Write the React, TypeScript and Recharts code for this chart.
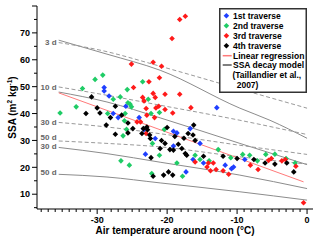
import React from "react";
import { ComposedChart, Scatter, XAxis, YAxis, Legend } from "recharts";

// SSA vs air temperature, four traverses
const traverse1 = [
  [-29, 49.7], [-29, 48.4], [-28.3, 46.5], [-25.9, 42.7], [-27.7, 40], [-27, 38.5],
  [-24, 38.5], [-23.3, 34.1], [-21.7, 30.7], [-23.1, 24.9], [-19.1, 33.4], [-18.6, 32.8],
  [-16.7, 34.4], [-19.1, 27.9], [-17.3, 18.3], [-15.3, 28.9], [-16.3, 22.9], [-14.8, 21.6],
  [-11.7, 20.8], [-10.8, 19.5], [-10.5, 20.1], [-8.9, 22.9], [-12.9, 42.2],
];
const traverse2 = [
  [-29.2, 54.3], [-30.3, 52.7], [-32.1, 49.3], [-23.5, 51.8], [-25.7, 48.9], [-22.7, 45.3],
  [-27.7, 45.3], [-26.7, 46.2], [-25.6, 44], [-25.3, 43.5], [-25.1, 42.5], [-35.3, 40.2],
  [-33, 42.5], [-28.5, 40], [-26, 40], [-22.3, 40], [-21.1, 40.4], [-26.1, 37.3],
  [-26.3, 31.7], [-25.8, 34.1], [-22.1, 28.9], [-21.1, 24.5], [-26.6, 22.4], [-25.4, 20.8],
  [-22.2, 17.7], [-20.4, 34.1], [-18.6, 21.6], [-17.8, 16.7], [-15.3, 22.9], [-16, 24.5],
  [-14, 22.4], [-12.7, 26.6], [-10.9, 23.6], [-9.2, 24.8], [-8.2, 24.5], [-7.1, 22.4],
  [-5.9, 24.8], [-4.6, 24.9], [-3, 23.3], [-1.7, 21.6],
];
const traverse3 = [
  [-25.1, 58.4], [-22, 59.1], [-21.1, 53.3], [-24.8, 49.7], [-22.6, 51.8], [-22, 47.5],
  [-21.7, 46], [-23.5, 46], [-23.3, 44.7], [-23, 41.9], [-22.9, 39.4], [-21.6, 42.1],
  [-21.8, 38.5], [-21.2, 42.7], [-17.4, 76.2], [-18.2, 75], [-19.3, 67.9], [-20.8, 57.6],
  [-20.3, 47.2], [-18.2, 47.2], [-20.3, 41.5], [-19.2, 40.2], [-16.6, 42.2], [-24.3, 36.9],
  [-23.8, 36.9], [-23, 32.6], [-16, 22], [-14.3, 20.1], [-14.1, 21.6], [-13.4, 21.6],
  [-13.8, 18.7], [-13, 19.2], [-12, 18.7], [-11.2, 17.4], [-8.1, 20.8], [-7, 19.2],
  [-5.5, 22.6], [-5.1, 23.3], [-3.6, 22.4], [-3.1, 22.9], [-1.6, 20.4], [-0.5, 6.8],
];
const traverse4 = [
  [-30.8, 46.2], [-27.4, 42.7], [-30, 42.1], [-29.6, 40.2], [-31.6, 40], [-28.1, 38.5],
  [-26.5, 39.4], [-28.7, 35.7], [-27.4, 32.3], [-25.6, 32.8], [-25.6, 36.5], [-24.9, 34.4],
  [-23.6, 32.6], [-23.4, 34.4], [-22.9, 35], [-22.8, 34], [-22.5, 32], [-22.4, 30.7],
  [-22.3, 23.6], [-22, 16.7], [-20, 34.8], [-17, 32.6], [-16.3, 32], [-16, 30],
  [-16.2, 35.7], [-20.8, 30], [-20.3, 28.9], [-21, 27], [-19.6, 26.6], [-19.1, 26.4],
  [-18.4, 28.6], [-17.9, 27], [-17.4, 25.1], [-17.2, 24.5], [-18.9, 31.5], [-17.6, 30.8],
  [-19.8, 18.3], [-19.2, 17.1], [-20.5, 17.1], [-14.8, 24.1], [-12, 24.1], [-10, 23.3],
  [-7.6, 22.9], [-6, 21.6], [-4.6, 21.2], [-2.9, 21.6], [-1.9, 18.3],
];

const regression = [[-35.5, 47.7], [-0.5, 14.6]];

// decay model curves (solid and dashed variants)
const solid3d = [[-35.5, 67.3], [-28.6, 62.1], [-21, 56.1], [-9.6, 42], [-5.3, 37.5], [0, 30.8]];
const solid10d = [[-35.5, 48], [-28.6, 44.3], [-21, 38.4], [-9.6, 28.9], [0, 21]];
const solid30d = [[-35.5, 27.4], [-28.6, 25.1], [-21, 21.9], [-9.6, 17.1], [0, 12.1]];
const solid50d = [[-35.5, 17.4], [-28.6, 16.4], [-21, 14.2], [-9.6, 10.9], [0, 7.8]];
const dashed3d = [[-35.5, 66.4], [-29.6, 63.6], [-21, 57.6], [-9.6, 49.1], [0, 42]];
const dashed10d = [[-35.5, 49.9], [-28.6, 46.8], [-21, 43.1], [-9.6, 37.5], [0, 32.2]];
const dashed30d = [[-35.5, 36.7], [-28.6, 35], [-21, 32.5], [-9.6, 28.2], [0, 24.8]];
const dashed50d = [[-35.5, 29.8], [-28.6, 28.9], [-21, 27.6], [-9.6, 23.9], [0, 21.2]];

const curveLabels = [
  { x: -35.8, y: 66.7, text: "3 d" },
  { x: -35.8, y: 49.7, text: "10 d" },
  { x: -35.8, y: 36.9, text: "30 d" },
  { x: -35.8, y: 31.3, text: "50 d" },
  { x: -35.8, y: 27.8, text: "30 d" },
  { x: -35.8, y: 18.3, text: "50 d" },
];

const xTicks = Array.from({ length: 39 }, (_, i) => i - 38);
const yTicks = [5, 10, 15, 20, 25, 30, 35, 40, 45, 50, 55, 60, 65, 70, 75, 80];

const FONT = "'Liberation Sans', Arial, sans-serif";
const BLUE = "#1f3fff";
const GREEN = "#1fcc66";
const RED = "#ff1a1a";
const BLACK = "#000000";
const PINK = "#ff7a7a";
const GRAY = "#8c8c8c";

const pts = (arr: number[][]) => arr.map(([x, y]) => ({ x, y }));

const diamond = (color: string) => (p: any) => {
  const { cx, cy } = p;
  const r = 2.8;
  return (
    <polygon
      points={`${cx},${cy - r} ${cx + r},${cy} ${cx},${cy + r} ${cx - r},${cy}`}
      fill={color}
    />
  );
};

const noShape = () => <g />;

const BottomTick = (p: any) => {
  const { x, y, payload } = p;
  const major = payload.value % 10 === 0;
  return (
    <g>
      <line x1={x} x2={x} y1={y} y2={y + (major ? 5 : 3)} stroke="#000" />
      {major && (
        <text x={x} y={y + 14} textAnchor="middle" fontSize={9} fontWeight="bold" fontFamily={FONT} fill="#000">
          {payload.value}
        </text>
      )}
    </g>
  );
};

const TopTick = (p: any) => {
  const { x, y, payload } = p;
  const major = payload.value % 10 === 0;
  return <line x1={x} x2={x} y1={y} y2={y - (major ? 4 : 2.5)} stroke="#000" />;
};

const LeftTick = (p: any) => {
  const { x, y, payload } = p;
  const major = payload.value % 10 === 0;
  return (
    <g>
      <line x1={x} x2={x - (major ? 5 : 3)} y1={y} y2={y} stroke="#000" />
      {major && payload.value <= 70 && (
        <text x={x - 7} y={y + 3.2} textAnchor="end" fontSize={9} fontWeight="bold" fontFamily={FONT} fill="#000">
          {payload.value}
        </text>
      )}
    </g>
  );
};

const RightTick = (p: any) => {
  const { x, y, payload } = p;
  const major = payload.value % 10 === 0;
  return <line x1={x} x2={x + (major ? 4 : 2.5)} y1={y} y2={y} stroke="#000" />;
};

const YTitle = (p: any) => {
  const vb = p.viewBox;
  const cx = vb.x + 16;
  const cy = vb.y + vb.height / 2;
  return (
    <text
      x={cx}
      y={cy}
      transform={`rotate(-90 ${cx} ${cy})`}
      textAnchor="middle"
      fontSize={10}
      fontWeight="bold"
      fontFamily={FONT}
      fill="#000"
    >
      SSA (m
      <tspan fontSize={6.5} dy={-4}>2</tspan>
      <tspan dy={4}> kg</tspan>
      <tspan fontSize={6.5} dy={-4}>-1</tspan>
      <tspan dy={4}>)</tspan>
    </text>
  );
};

const XTitle = (p: any) => {
  const vb = p.viewBox;
  return (
    <text
      x={vb.x + vb.width / 2}
      y={vb.y + 25}
      textAnchor="middle"
      fontSize={10}
      fontWeight="bold"
      fontFamily={FONT}
      fill="#000"
    >
      Air temperature around noon (°C)
    </text>
  );
};

const CurveLabel = (p: any) => (
  <text
    x={p.cx}
    y={p.cy + 2.8}
    textAnchor="end"
    fontSize={8}
    fontWeight="bold"
    fontFamily={FONT}
    fill="#666"
  >
    {p.payload.text}
  </text>
);

const legendRows = [
  { label: "1st traverse", color: BLUE, kind: "pt" },
  { label: "2nd traverse", color: GREEN, kind: "pt" },
  { label: "3rd traverse", color: RED, kind: "pt" },
  { label: "4th traverse", color: BLACK, kind: "pt" },
  { label: "Linear regression", color: PINK, kind: "line" },
  { label: "SSA decay model", color: "#555", kind: "line" },
];

const LegendBox = () => {
  const rowY = [7.7, 17.7, 27.7, 37.7, 47.7, 57];
  return (
    <svg width={88} height={86} style={{ display: "block" }}>
      <rect x={0.75} y={0.75} width={86.5} height={83.5} fill="#fff" stroke="#333" strokeWidth={1.5} />
      {legendRows.map((r, i) => (
        <g key={r.label}>
          {r.kind === "pt" ? (
            <polygon
              points={`7.4,${rowY[i] - 2.8} 10.2,${rowY[i]} 7.4,${rowY[i] + 2.8} 4.6,${rowY[i]}`}
              fill={r.color}
            />
          ) : (
            <line x1={3.7} x2={12.7} y1={rowY[i]} y2={rowY[i]} stroke={r.color} strokeWidth={1.5} />
          )}
          <text x={14} y={rowY[i] + 3} fontSize={8.5} fontWeight="bold" fontFamily={FONT} fill="#000">
            {r.label}
          </text>
        </g>
      ))}
      <text x={13.4} y={69.7} fontSize={8.5} fontWeight="bold" fontFamily={FONT} fill="#000">
        (Taillandier et al.,
      </text>
      <text x={17.7} y={79.7} fontSize={8.5} fontWeight="bold" fontFamily={FONT} fill="#000">
        2007)
      </text>
    </svg>
  );
};

const curve = (data: number[][], color: string, dash?: string) => (
  <Scatter
    data={pts(data)}
    line={{ stroke: color, strokeWidth: 1, strokeDasharray: dash }}
    lineJointType="monotoneX"
    shape={noShape}
    isAnimationActive={false}
  />
);

export default function App() {
  return (
    <div style={{ position: "fixed", left: 0, top: 0, width: 320, height: 241, background: "#fff" }}>
      <ComposedChart width={320} height={241} margin={{ top: 6, right: 7, left: 0, bottom: 0 }}>
        <XAxis
          dataKey="x"
          type="number"
          domain={[-38.6, 0.85]}
          allowDataOverflow
          ticks={xTicks}
          interval={0}
          tickSize={0}
          tickMargin={0}
          tickLine={false}
          tick={BottomTick}
          height={32}
          axisLine={{ stroke: "#000" }}
          label={{ content: XTitle }}
        />
        <XAxis
          xAxisId="top"
          orientation="top"
          dataKey="x"
          type="number"
          domain={[-38.6, 0.85]}
          allowDataOverflow
          ticks={xTicks}
          interval={0}
          tickSize={0}
          tickMargin={0}
          tickLine={false}
          tick={TopTick}
          height={0}
          axisLine={{ stroke: "#000" }}
        />
        <YAxis
          dataKey="y"
          type="number"
          domain={[4.5, 80]}
          allowDataOverflow
          ticks={yTicks}
          interval={0}
          tickSize={0}
          tickMargin={0}
          tickLine={false}
          tick={LeftTick}
          width={37}
          axisLine={{ stroke: "#000" }}
          label={{ content: YTitle }}
        />
        <YAxis
          yAxisId="right"
          orientation="right"
          dataKey="y"
          type="number"
          domain={[4.5, 80]}
          allowDataOverflow
          ticks={yTicks}
          interval={0}
          tickSize={0}
          tickMargin={0}
          tickLine={false}
          tick={RightTick}
          width={0}
          axisLine={{ stroke: "#000" }}
        />
        {curve(solid3d, GRAY)}
        {curve(solid10d, GRAY)}
        {curve(solid30d, GRAY)}
        {curve(solid50d, GRAY)}
        {curve(dashed3d, "#9a9a9a", "4 2.5")}
        {curve(dashed10d, "#9a9a9a", "4 2.5")}
        {curve(dashed30d, "#9a9a9a", "4 2.5")}
        {curve(dashed50d, "#9a9a9a", "4 2.5")}
        {curve(regression, PINK)}
        <Scatter
          xAxisId="top"
          yAxisId="right"
          data={curveLabels}
          shape={CurveLabel}
          isAnimationActive={false}
        />
        <Scatter data={pts(traverse1)} shape={diamond(BLUE)} isAnimationActive={false} />
        <Scatter data={pts(traverse2)} shape={diamond(GREEN)} isAnimationActive={false} />
        <Scatter data={pts(traverse3)} shape={diamond(RED)} isAnimationActive={false} />
        <Scatter data={pts(traverse4)} shape={diamond(BLACK)} isAnimationActive={false} />
        <Legend
          layout="horizontal"
          verticalAlign="middle"
          align="center"
          content={LegendBox}
          wrapperStyle={{ left: 219, top: 8, width: 88, height: 86, bottom: "auto", right: "auto" }}
        />
      </ComposedChart>
    </div>
  );
}
